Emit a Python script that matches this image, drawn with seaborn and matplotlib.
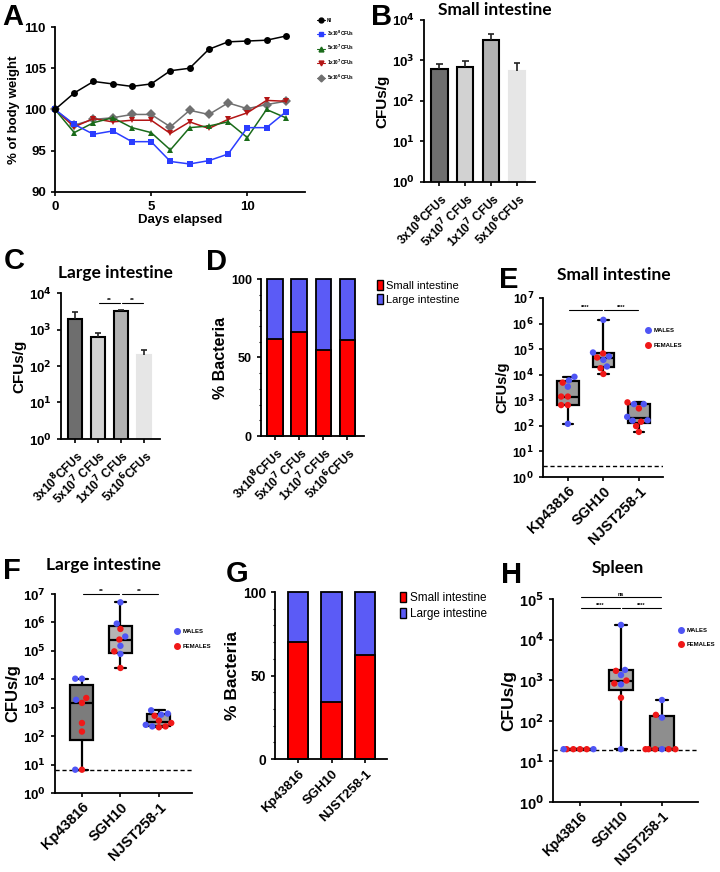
import numpy as np
import pandas as pd
import matplotlib
matplotlib.use("Agg")
import matplotlib.pyplot as plt
import seaborn as sns
from matplotlib.lines import Line2D
from matplotlib.patches import Patch
from matplotlib.ticker import MultipleLocator, NullLocator, FuncFormatter

# ---------------- data ----------------
# A - body weight (% of day 0)
days = list(range(13))
bw_ni = [100, 102.0, 103.4, 103.1, 102.8, 103.1, 104.7, 105.0, 107.3, 108.2, 108.3, 108.4, 108.9]
bw_3e8 = [100, 98.2, 97.0, 97.4, 96.1, 96.1, 93.7, 93.4, 93.8, 94.6, 97.8, 97.8, 99.7]
bw_5e7 = [100, 97.2, 98.4, 99.0, 97.8, 97.2, 95.1, 97.8, 98.0, 98.5, 96.6, 100.0, 99.0]
bw_1e7 = [100, 97.9, 98.9, 98.5, 98.7, 98.7, 97.1, 98.5, 97.7, 98.8, 99.6, 101.1, 101.0]
bw_5e6 = [100, 98.1, 98.8, 99.0, 99.4, 99.4, 97.9, 99.9, 99.4, 100.8, 100.1, 100.6, 101.0]
bw_groups = ['NI', '3x10$^8$CFUs', '5x10$^7$CFUs', '1x10$^7$CFUs', '5x10$^6$CFUs']

# B, C, D - dose groups
doses = ['3x10$^8$CFUs', '5x10$^7$ CFUs', '1x10$^7$ CFUs', '5x10$^6$CFUs']
si_dose_mean = [630, 680, 3250, 550]
si_dose_top = [830, 950, 4600, 870]
li_dose_mean = [1900, 610, 3200, 195]
li_dose_top = [3000, 800, 3400, 280]
si_pct_dose = [62, 66, 55, 61]
li_pct_dose = [38, 34, 45, 39]

# E, F, G, H - strains
strains = ['Kp43816', 'SGH10', 'NJST258-1']
si_kp = [8300, 6000, 4900, 3400, 1400, 1400, 650, 650, 120]
si_kp_sex = ['M', 'M', 'F', 'M', 'F', 'F', 'F', 'F', 'M']
si_sgh = [1.4e6, 74000, 68000, 47000, 52000, 38000, 21000, 18000, 10700]
si_sgh_sex = ['M', 'M', 'F', 'F', 'M', 'M', 'M', 'F', 'F']
si_nj = [710, 710, 830, 480, 225, 160, 165, 145, 98, 58]
si_nj_sex = ['M', 'M', 'F', 'F', 'M', 'M', 'M', 'F', 'F', 'F']
si_lod = 2.7

li_kp = [10500, 10500, 1900, 2200, 1480, 290, 145, 6.6, 6.6]
li_kp_sex = ['M', 'M', 'M', 'F', 'F', 'F', 'F', 'F', 'M']
li_sgh = [5.1e6, 9.1e5, 5.9e5, 3.2e5, 2.5e5, 1.5e5, 9.6e4, 7.8e4, 2.5e4]
li_sgh_sex = ['M', 'M', 'F', 'M', 'F', 'M', 'F', 'M', 'F']
li_nj = [810, 570, 620, 520, 350, 290, 250, 205, 220, 220]
li_nj_sex = ['M', 'M', 'M', 'F', 'F', 'F', 'M', 'F', 'M', 'F']
li_lod = 6.6

si_pct_strain = [70, 34, 62]
li_pct_strain = [30, 66, 38]

sp_kp = [20, 20, 20, 20, 20, 20]
sp_kp_sex = ['F', 'F', 'F', 'F', 'M', 'M']
sp_sgh = [23000, 1790, 1700, 1340, 830, 980, 790, 370, 20]
sp_sgh_sex = ['M', 'M', 'F', 'M', 'F', 'F', 'M', 'F', 'M']
sp_nj = [325, 140, 120, 20, 20, 20, 20, 20, 20]
sp_nj_sex = ['M', 'F', 'M', 'M', 'F', 'F', 'F', 'F', 'F']
sp_lod = 19

# ---------------- style ----------------
sns.set_style("ticks")
plt.rcParams['font.family'] = ['Liberation Sans', 'DejaVu Sans']
plt.rcParams['font.weight'] = 'bold'
plt.rcParams['axes.labelweight'] = 'bold'
plt.rcParams['axes.linewidth'] = 1.3
plt.rcParams['axes.edgecolor'] = 'black'
plt.rcParams['text.color'] = 'black'
plt.rcParams['axes.labelcolor'] = 'black'
plt.rcParams['xtick.color'] = 'black'
plt.rcParams['ytick.color'] = 'black'
plt.rcParams['xtick.major.size'] = 3
plt.rcParams['ytick.major.size'] = 3
plt.rcParams['xtick.major.width'] = 1.2
plt.rcParams['ytick.major.width'] = 1.2

BLUE_PT = '#4f55f5'
RED_PT = '#f01818'
BAR_RED = '#ff0000'
BAR_BLUE = '#5b5bf6'

W, H = 720, 872
fig = plt.figure(figsize=(7.2, 8.72), dpi=100)


def panel(l, r, t, b):
    ax = fig.add_axes([l / W, 1 - b / H, (r - l) / W, (b - t) / H])
    return ax


def letter(x, y, s):
    fig.text(x / W, 1 - y / H, s, fontsize=21, fontweight='bold', va='top', ha='left')


def title(cx, cy, s):
    fig.text(cx / W, 1 - cy / H, s, fontsize=12.5, fontweight='bold', ha='center', va='center', family='Lato')


def sig(ax, x0, x1, y, txt, fs=4.5):
    ax.plot([x0 + 0.03, x1 - 0.03], [y, y], color='k', lw=0.8, clip_on=False)
    ax.annotate(txt, xy=((x0 + x1) / 2, y), xytext=(0, 0.3), textcoords='offset points',
                ha='center', va='bottom', fontsize=fs, annotation_clip=False)


def log_axis(ax, top, fs):
    ax.set_yscale('log', nonpositive='clip')
    ax.set_ylim(1, top)
    ax.set_yticks(10.0 ** np.arange(0, int(round(np.log10(top))) + 1))
    ax.yaxis.set_major_formatter(FuncFormatter(lambda v, p: '10$^{%d}$' % round(np.log10(v))))
    ax.yaxis.set_minor_locator(NullLocator())
    ax.tick_params(axis='y', labelsize=fs)
    sns.despine(ax=ax)


def dose_bars(ax, means, tops, fs_y):
    edges = ['k', 'k', 'k', '#e6e6e6']
    sns.barplot(x=doses, y=means, hue=doses, palette=['#6e6e6e', '#d2d2d2', '#b2b2b2', '#e6e6e6'],
                saturation=1, width=0.63, legend=False, log_scale=True, ax=ax)
    for p, e in zip(ax.patches, edges):
        p.set_edgecolor(e)
        p.set_linewidth(1.5)
    x = np.arange(len(means))
    ax.vlines(x, means, tops, color='#222222', lw=1.2, zorder=1)
    ax.hlines(tops, x - 0.13, x + 0.13, color='#222222', lw=1.2, zorder=1)
    log_axis(ax, 1e4, 9.5)
    ax.set_xlim(-0.6, 3.7)
    ax.set_xticks(x, doses, rotation=45, ha='right', rotation_mode='anchor', fontsize=8.5)
    ax.set_ylabel('CFUs/g', fontsize=fs_y, labelpad=2)


def pct_bars(ax, cats, si, li, width, fs_t, fs_y):
    total = np.add(si, li)
    sns.barplot(x=cats, y=total, color=BAR_BLUE, saturation=1, width=width,
                edgecolor='k', linewidth=1.3, ax=ax)
    sns.barplot(x=cats, y=si, color=BAR_RED, saturation=1, width=width,
                edgecolor='k', linewidth=1.3, ax=ax)
    for p in ax.patches:
        p.set_clip_on(False)
    ax.set_ylim(0, 100)
    ax.set_yticks([0, 50, 100])
    ax.yaxis.set_minor_locator(MultipleLocator(10))
    ax.tick_params(axis='y', which='minor', length=1.5, width=0.8)
    ax.tick_params(axis='y', labelsize=fs_t)
    ax.set_ylabel('% Bacteria', fontsize=fs_y, labelpad=2)
    sns.despine(ax=ax)


def pct_legend(ax, x, yc, fs):
    handles = [Patch(facecolor=BAR_RED, edgecolor='k', lw=1), Patch(facecolor=BAR_BLUE, edgecolor='k', lw=1)]
    leg = ax.legend(handles, ['Small intestine', 'Large intestine'], loc='center left',
                    bbox_to_anchor=(x / W, 1 - yc / H), bbox_transform=fig.transFigure,
                    frameon=False, fontsize=fs, handlelength=0.5, handleheight=1.0,
                    handletextpad=0.35, labelspacing=0.3, borderpad=0, borderaxespad=0)
    for t in leg.get_texts():
        t.set_fontweight('normal')


def box_panel(ax, vals, sexes, lod, fills, top, fs_t, fs_x, fs_y):
    rows = []
    for s, v, sx in zip(strains, vals, sexes):
        for a, b in zip(v, sx):
            rows.append({'strain': s, 'cfu': a, 'sex': b})
    df = pd.DataFrame(rows)
    sns.swarmplot(data=df, x='strain', y='cfu', hue='sex', order=strains, hue_order=['M', 'F'],
                  palette={'M': BLUE_PT, 'F': RED_PT}, size=4.6, linewidth=0, log_scale=True,
                  legend=False, warn_thresh=1, zorder=3, ax=ax)
    stats = []
    for v in vals:
        q1, med, q3 = np.percentile(v, [25, 50, 75], method='weibull')
        stats.append(dict(med=med, q1=q1, q3=q3, whislo=min(v), whishi=max(v), fliers=[]))
    bp = ax.bxp(stats, positions=range(3), widths=0.6, capwidths=0.3, patch_artist=True,
                showfliers=False, manage_ticks=False, zorder=2,
                boxprops=dict(edgecolor='k', lw=1.6), medianprops=dict(color='k', lw=1.6),
                whiskerprops=dict(color='k', lw=1.6), capprops=dict(color='k', lw=1.6))
    for p, c in zip(bp['boxes'], fills):
        p.set_facecolor(c)
    ax.axhline(lod, ls='--', color='k', lw=1, dashes=(3, 2), zorder=1)
    log_axis(ax, top, fs_t)
    ax.set_xlim(-0.7, 2.75)
    ax.set_xticks(range(3), strains, rotation=45, ha='right', rotation_mode='anchor', fontsize=fs_x)
    ax.tick_params(axis='x', pad=2)
    ax.set_xlabel('')
    ax.set_ylabel('CFUs/g', fontsize=fs_y, labelpad=2)


def sex_legend(ax, x, yc, spacing):
    handles = [Line2D([0], [0], marker='o', ls='none', color=BLUE_PT, markersize=4),
               Line2D([0], [0], marker='o', ls='none', color=RED_PT, markersize=4)]
    ax.legend(handles, ['MALES', 'FEMALES'], loc='center left',
              bbox_to_anchor=(x / W, 1 - yc / H), bbox_transform=fig.transFigure,
              frameon=False, fontsize=4.3, handlelength=0.8, handletextpad=0.5,
              labelspacing=spacing, borderpad=0, borderaxespad=0)


# ---------------- A ----------------
axA = panel(55, 305, 27, 192)
bw_all = [bw_ni, bw_3e8, bw_5e7, bw_1e7, bw_5e6]
df_bw = pd.DataFrame({'day': days * 5,
                      'weight': sum(bw_all, []),
                      'group': [g for g in bw_groups for _ in days]})
colors_A = dict(zip(bw_groups, ['black', '#2b3dff', '#1a6b1a', '#b31515', '#707070']))
markers_A = dict(zip(bw_groups, ['o', 's', '^', 'v', 'D']))
sns.lineplot(data=df_bw, x='day', y='weight', hue='group', style='group', hue_order=bw_groups[::-1],
             palette=colors_A, markers=markers_A, dashes=False, markersize=5, markeredgewidth=0,
             linewidth=1.1, legend=False, ax=axA)
axA.set_xlim(0, 13)
axA.set_ylim(90, 110)
axA.set_xticks([0, 5, 10])
axA.set_yticks([90, 95, 100, 105, 110])
axA.tick_params(labelsize=9.5)
axA.set_xlabel('Days elapsed', fontsize=9.5, labelpad=1)
axA.set_ylabel('% of body weight', fontsize=9.5, labelpad=3)
sns.despine(ax=axA)
for l in axA.lines:
    l.set_clip_on(False)
hA = [Line2D([0], [0], color=colors_A[g], marker=markers_A[g], markersize=3.5, lw=0.8) for g in bw_groups]
axA.legend(hA, bw_groups, loc='center left', bbox_to_anchor=(317 / W, 1 - 50 / H),
           bbox_transform=fig.transFigure, frameon=False, fontsize=3.4, handlelength=1.6,
           handletextpad=0.5, labelspacing=1.15, borderpad=0, borderaxespad=0)
letter(2, 3, 'A')

# ---------------- B ----------------
axB = panel(424, 535, 20, 182)
dose_bars(axB, si_dose_mean, si_dose_top, 11)
letter(371, 3, 'B')
title(495, 10, 'Small intestine')

# ---------------- C ----------------
axC = panel(61, 160, 293, 439)
dose_bars(axC, li_dose_mean, li_dose_top, 11)
sig(axC, 1, 2, 5300, '**')
sig(axC, 2, 3, 5300, '**')
letter(4, 247, 'C')
title(115, 273, 'Large intestine')

# ---------------- D ----------------
axD = panel(261, 364, 279, 436)
pct_bars(axD, doses, si_pct_dose, li_pct_dose, 0.63, 9, 11.5)
axD.set_xlim(-0.58, 3.7)
axD.set_xticks(range(4), doses, rotation=45, ha='right', rotation_mode='anchor', fontsize=8.5)
pct_legend(axD, 377, 292.5, 8)
letter(206, 248, 'D')

# ---------------- E ----------------
axE = panel(543, 663, 298, 477)
box_panel(axE, [si_kp, si_sgh, si_nj], [si_kp_sex, si_sgh_sex, si_nj_sex], si_lod,
          ['#9a9a9a', '#a6a6a6', '#9a9a9a'], 1e7, 9, 10.5, 10.5)
axE.set_xlim(-0.7, 2.68)
sig(axE, 0, 1, 3.3e6, '****', 4)
sig(axE, 1, 2, 3.3e6, '****', 4)
sex_legend(axE, 646, 338, 1.6)
letter(499, 266, 'E')
title(614, 275, 'Small intestine')

# ---------------- F ----------------
axF = panel(55, 192, 594, 793)
box_panel(axF, [li_kp, li_sgh, li_nj], [li_kp_sex, li_sgh_sex, li_nj_sex], li_lod,
          ['#7c7c7c', '#b5b5b5', '#a2a2a2'], 1e7, 9.5, 10.5, 12)
axF.set_xlim(-0.7, 2.86)
sig(axF, 0, 1, 1e7, '**', 4.5)
sig(axF, 1, 2, 1e7, '**', 4.5)
sex_legend(axF, 175, 639, 1.6)
letter(3, 557, 'F')
title(103, 565, 'Large intestine')

# ---------------- G ----------------
axG = panel(275, 387, 592, 759)
pct_bars(axG, strains, si_pct_strain, li_pct_strain, 0.62, 10, 12.5)
axG.set_xlim(-0.69, 2.66)
axG.set_xticks(range(3), strains, rotation=45, ha='right', rotation_mode='anchor', fontsize=9.5)
pct_legend(axG, 400, 606, 8.5)
letter(226, 560, 'G')

# ---------------- H ----------------
axH = panel(553, 698, 599, 802)
box_panel(axH, [sp_kp, sp_sgh, sp_nj], [sp_kp_sex, sp_sgh_sex, sp_nj_sex], sp_lod,
          ['#8e8e8e', '#a8a8a8', '#8e8e8e'], 1e5, 10.5, 9.8, 12.5)
axH.set_xlim(-0.66, 2.88)
sig(axH, 0, 1, 6e4, '****', 4)
sig(axH, 1, 2, 6e4, '****', 4)
sig(axH, 0, 2, 1.1e5, 'ns', 4)
sex_legend(axH, 679, 637.5, 1.5)
letter(501, 561, 'H')
title(618, 568, 'Spleen')

fig.savefig('out.png', dpi=100)
